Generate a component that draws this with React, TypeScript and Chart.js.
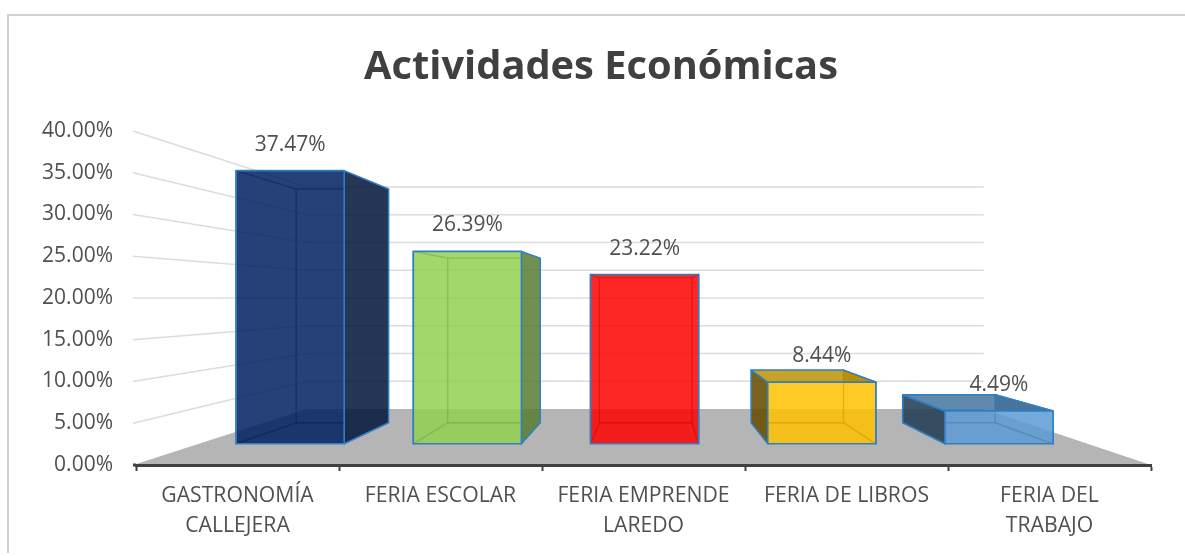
import React, { useEffect, useRef } from "react";
import { Chart, registerables } from "chart.js";

Chart.register(...registerables);

const titleText = "Actividades Económicas";
const categories = [
  ["GASTRONOMÍA", "CALLEJERA"],
  ["FERIA ESCOLAR"],
  ["FERIA EMPRENDE", "LAREDO"],
  ["FERIA DE LIBROS"],
  ["FERIA DEL", "TRABAJO"],
];
const values = [37.47, 26.39, 23.22, 8.44, 4.49];
const barColors = ["#002060", "#92D050", "#FF0000", "#FFC000", "#5B9BD5"];
const yTicks = [0, 5, 10, 15, 20, 25, 30, 35, 40];

const FONT = '"Open Sans", sans-serif';
const TEXT = "#505050";
const EDGE = "#2F7FC4";
const VX = 652;
const VY = 298;
const K_FRONT = 0.873;
const K_BACK = 0.747;
const K_WALL = 0.665;

const hexRgb = (h: string) => [1, 3, 5].map((i) => parseInt(h.slice(i, i + 2), 16));
const shade = (h: string, f: number, a: number) => {
  const [r, g, b] = hexRgb(h);
  return `rgba(${Math.round(r * f)},${Math.round(g * f)},${Math.round(b * f)},${a})`;
};
const proj = (x: number, y: number, k: number): [number, number] => [VX + (x - VX) * k, VY + (y - VY) * k];

function poly(ctx: CanvasRenderingContext2D, pts: [number, number][], fill?: string, stroke?: string, lw = 1.5) {
  ctx.beginPath();
  pts.forEach((p, i) => (i ? ctx.lineTo(p[0], p[1]) : ctx.moveTo(p[0], p[1])));
  ctx.closePath();
  if (fill) {
    ctx.fillStyle = fill;
    ctx.fill();
  }
  if (stroke) {
    ctx.strokeStyle = stroke;
    ctx.lineWidth = lw;
    ctx.lineJoin = "round";
    ctx.stroke();
  }
}

const stage3d = {
  id: "stage3d",
  beforeDraw(chart: any) {
    const ctx = chart.ctx;
    const { left, right, bottom } = chart.chartArea;
    const y = chart.scales.y;
    ctx.save();
    // outer frame
    ctx.strokeStyle = "#d0d0d0";
    ctx.lineWidth = 2;
    ctx.beginPath();
    ctx.moveTo(8, chart.height - 3);
    ctx.lineTo(8, 15);
    ctx.lineTo(chart.width, 15);
    ctx.stroke();
    // walls' grid lines
    ctx.strokeStyle = "#dcdcdc";
    ctx.lineWidth = 1.6;
    const x0 = left - 3;
    yTicks.forEach((t) => {
      if (t === 0) return;
      const yy = y.getPixelForValue(t);
      const a = proj(x0, yy, K_WALL);
      const b = proj(right, yy, K_WALL);
      ctx.beginPath();
      ctx.moveTo(x0, yy);
      ctx.lineTo(a[0], a[1]);
      ctx.lineTo(b[0], b[1]);
      ctx.stroke();
    });
    // floor
    poly(ctx, [[x0, bottom], proj(x0, bottom, K_WALL), proj(right, bottom, K_WALL), [right, bottom]], "#b5b5b5");
    ctx.restore();
  },
  beforeDatasetDraw() {
    return false;
  },
  afterDatasetsDraw(chart: any) {
    const ctx = chart.ctx;
    const meta = chart.getDatasetMeta(0);
    const ds = chart.data.datasets[0];
    ctx.save();
    // axis line stub to the left of the first tick
    const { left, bottom } = chart.chartArea;
    ctx.strokeStyle = "#404040";
    ctx.lineWidth = 3;
    ctx.beginPath();
    ctx.moveTo(left - 3, bottom);
    ctx.lineTo(left, bottom);
    ctx.stroke();

    meta.data.forEach((bar: any, i: number) => {
      const c = ds.backgroundColor[i];
      const l = bar.x - bar.width / 2;
      const r = bar.x + bar.width / 2;
      const t = bar.y;
      const b = bar.base;
      const fTL = proj(l, t, K_FRONT), fTR = proj(r, t, K_FRONT), fBL = proj(l, b, K_FRONT), fBR = proj(r, b, K_FRONT);
      const bTL = proj(l, t, K_BACK), bTR = proj(r, t, K_BACK), bBL = proj(l, b, K_BACK), bBR = proj(r, b, K_BACK);
      const rectFront = (p: Path2D) => {
        p.moveTo(fTL[0], fTL[1]);
        p.lineTo(fTR[0], fTR[1]);
        p.lineTo(fBR[0], fBR[1]);
        p.lineTo(fBL[0], fBL[1]);
        p.closePath();
      };
      // faces that show outside the front face
      ctx.save();
      const outside = new Path2D();
      outside.rect(0, 0, chart.width, chart.height);
      rectFront(outside);
      ctx.clip(outside, "evenodd");
      poly(ctx, [fTL, bTL, bBL, fBL], shade(c, 0.4, 0.88), EDGE, 1.5);
      poly(ctx, [fTR, bTR, bBR, fBR], shade(c, 0.6, 0.85), EDGE, 1.5);
      if (bTL[1] < fTL[1]) poly(ctx, [fTL, fTR, bTR, bTL], shade(c, 0.75, 0.85), EDGE, 1.5);
      ctx.restore();

      // translucent front face
      poly(ctx, [fTL, fTR, fBR, fBL], shade(c, 1, 0.85));

      // hidden edges seen through the front face
      ctx.save();
      const inside = new Path2D();
      rectFront(inside);
      ctx.clip(inside);
      const hidden = shade(c, 0.7, 0.38);
      poly(ctx, [bTL, bTR, bBR, bBL], undefined, hidden, 1.4);
      [[fTL, bTL], [fTR, bTR], [fBL, bBL], [fBR, bBR]].forEach(([p, q]) => {
        ctx.beginPath();
        ctx.moveTo(p[0], p[1]);
        ctx.lineTo(q[0], q[1]);
        ctx.strokeStyle = hidden;
        ctx.lineWidth = 1.4;
        ctx.stroke();
      });
      ctx.restore();

      poly(ctx, [fTL, fTR, fBR, fBL], undefined, EDGE, 1.6);

      // value label
      ctx.fillStyle = TEXT;
      ctx.font = `21px ${FONT}`;
      ctx.textAlign = "center";
      ctx.textBaseline = "middle";
      ctx.fillText(values[i].toFixed(2) + "%", (fTL[0] + fTR[0]) / 2, fTL[1] - 26);
    });
    ctx.restore();
  },
};

export default function App() {
  const ref = useRef<HTMLCanvasElement>(null);
  useEffect(() => {
    document.body.style.margin = "0";
    const chart = new Chart(ref.current as HTMLCanvasElement, {
      type: "bar",
      data: {
        labels: categories as any,
        datasets: [
          {
            label: titleText,
            data: values,
            backgroundColor: barColors,
            barPercentage: 0.61,
            categoryPercentage: 1,
          },
        ],
      },
      options: {
        animation: false,
        responsive: false,
        layout: { autoPadding: false, padding: { left: 40, right: 23, top: 0, bottom: 0 } },
        plugins: {
          legend: { display: false },
          tooltip: { enabled: false },
          title: {
            display: true,
            text: titleText,
            color: "#404040",
            font: { family: FONT, size: 39.8, weight: "bold", lineHeight: 1.2 },
            padding: { top: 44, bottom: 39.24 },
          },
        },
        scales: {
          x: {
            grid: { drawOnChartArea: false, drawTicks: true, tickLength: 6, tickColor: "#404040", tickWidth: 2, offset: true },
            border: { display: true, color: "#404040", width: 3 },
            ticks: { color: TEXT, font: { family: FONT, size: 21.2, lineHeight: 30 / 21.2 }, padding: 10, maxRotation: 0, autoSkip: false },
            afterFit: (s: any) => {
              s.height = 91;
            },
          },
          y: {
            min: 0,
            max: 40,
            grid: { display: false },
            border: { display: false },
            ticks: {
              stepSize: 5,
              color: TEXT,
              font: { family: FONT, size: 21 },
              padding: 15,
              callback: (v: any) => Number(v).toFixed(2) + "%",
            },
            afterFit: (s: any) => {
              s.width = 96;
            },
          },
          // empty spacer on the right, keeps the title centred where the reference has it
          spacer: {
            type: "linear",
            position: "right",
            display: true,
            grid: { display: false },
            border: { display: false },
            ticks: { display: false },
            afterFit: (s: any) => {
              s.width = 11;
            },
          },
        },
      },
      plugins: [stage3d],
    } as any);
    return () => chart.destroy();
  }, []);
  return (
    <div style={{ position: "absolute", left: 0, top: 0, width: 1185, height: 556, background: "#fff" }}>
      <canvas ref={ref} width={1185} height={556} style={{ display: "block", filter: "blur(0.6px)" }} />
    </div>
  );
}
